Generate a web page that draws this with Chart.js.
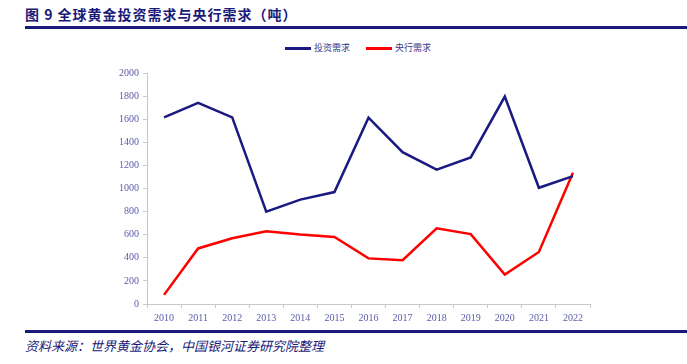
<!DOCTYPE html>
<html>
<head>
<meta charset="utf-8">
<script src="https://cdn.jsdelivr.net/npm/chart.js@4"></script>
<style>
  body { margin: 0; width: 687px; height: 364px; background: #fff; position: relative; overflow: hidden; font-family: "Noto Sans CJK SC", sans-serif; }
  .title { position: absolute; left: 25px; top: 4px; font-size: 14px; font-weight: bold; color: #1a1a78; letter-spacing: 1px; }
  .rule { position: absolute; left: 25px; right: 0; height: 3px; background: #1a1a78; }
  .source { position: absolute; left: 25px; top: 336px; font-size: 13px; font-style: italic; color: #1a1a78; }
  .legend { position: absolute; top: 41px; font-size: 9px; color: #3a3a8c; }
  .legend span.sw { display: inline-block; width: 26px; height: 3px; vertical-align: middle; margin-right: 3px; }
  #wrap { position: absolute; left: 0; top: 60px; width: 687px; height: 268px; }
</style>
</head>
<body>
<div class="title">图 9 全球黄金投资需求与央行需求（吨）</div>
<div class="rule" style="top:26px"></div>
<div class="legend" style="left:285px"><span class="sw" style="background:#1a1a80"></span>投资需求</div>
<div class="legend" style="left:366px"><span class="sw" style="background:#ff0000"></span>央行需求</div>
<div id="wrap"><canvas id="chart"></canvas></div>
<div class="rule" style="top:330px"></div>
<div class="source">资料来源：世界黄金协会，中国银河证券研究院整理</div>
<script>
const years = ['2010', '2011', '2012', '2013', '2014', '2015', '2016', '2017', '2018', '2019', '2020', '2021', '2022'];
const investDemand = [1616, 1741, 1616, 800, 904, 969, 1613, 1315, 1164, 1269, 1796, 1006, 1107];
const centralBankDemand = [79, 481, 569, 629, 601, 580, 395, 379, 656, 605, 255, 450, 1136];

const tickColor = '#5a5aa8';
const tickFont = { family: 'Liberation Serif', size: 10 };

new Chart(document.getElementById('chart').getContext('2d'), {
    type: 'line',
    data: {
        labels: years,
        datasets: [{
            label: '投资需求',
            data: investDemand,
            borderColor: '#1a1a80',
            borderWidth: 2.5,
            pointRadius: 0,
            tension: 0
        }, {
            label: '央行需求',
            data: centralBankDemand,
            borderColor: '#ff0000',
            borderWidth: 2.5,
            pointRadius: 0,
            tension: 0
        }]
    },
    options: {
        responsive: true,
        maintainAspectRatio: false,
        animation: false,
        layout: { padding: { top: 13, right: 97, left: 0, bottom: 0 } },
        plugins: { legend: { display: false }, tooltip: { enabled: false } },
        scales: {
            y: {
                min: 0,
                max: 2000,
                ticks: { stepSize: 200, color: tickColor, font: tickFont, padding: 4, callback: v => String(v) },
                grid: { drawOnChartArea: false, drawTicks: true, tickLength: 4, color: '#c8c8c8' },
                border: { color: '#c8c8c8', width: 1 },
                afterFit: s => { s.width = 147; }
            },
            x: {
                offset: true,
                ticks: { color: tickColor, font: tickFont, padding: 4, maxRotation: 0 },
                grid: { offset: true, drawOnChartArea: false, drawTicks: true, tickLength: 4, color: '#c8c8c8' },
                border: { color: '#c8c8c8', width: 1 }
            }
        }
    }
});
</script>
</body>
</html>
